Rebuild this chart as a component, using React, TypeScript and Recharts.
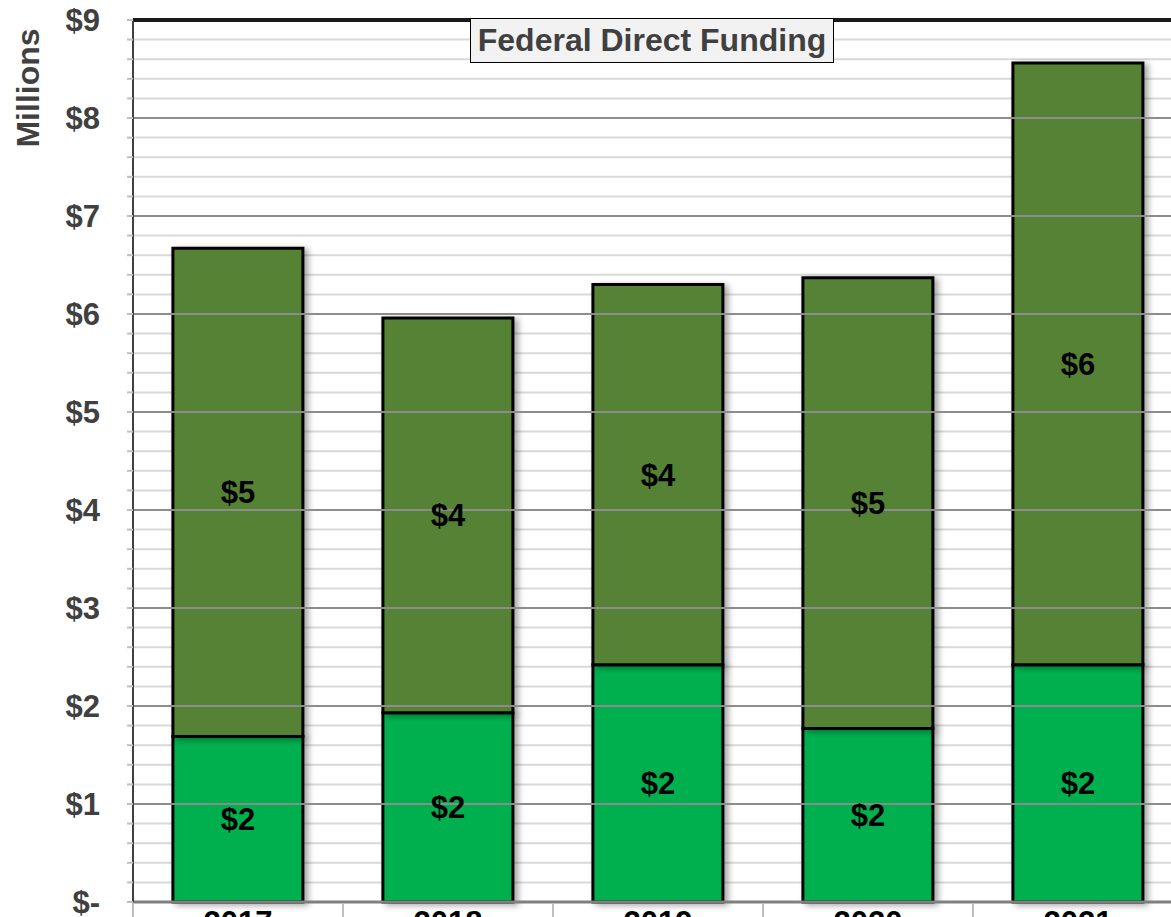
import {
  Bar,
  BarChart,
  CartesianGrid,
  LabelList,
  ReferenceLine,
  XAxis,
  YAxis,
} from 'recharts'

const years = ['2017', '2018', '2019', '2020', '2021']
const baseFunding = [1.69, 1.93, 2.42, 1.77, 2.42]
const addedFunding = [4.98, 4.03, 3.88, 4.6, 6.14]

const majorTicks = [0, 1, 2, 3, 4, 5, 6, 7, 8, 9]
const minorTicks = Array.from({ length: 46 }, (_, i) => i / 5)

const data = years.map((y, i) => ({
  year: y,
  base: baseFunding[i],
  added: addedFunding[i],
}))

const FONT = '"Liberation Sans", Arial, sans-serif'
const CHART_W = 1190
const Y_AXIS_W = 133
const RIGHT_PAD = 7
const BAND = (CHART_W - Y_AXIS_W - RIGHT_PAD) / years.length

function moneyLabel(v: number): string {
  return `$${Math.round(v)}`
}

function YTick(props: any) {
  const { x, y, payload } = props
  const v = payload.value as number
  if (Math.abs(v - Math.round(v)) > 1e-6) return <g />
  const r = Math.round(v)
  return (
    <text
      x={x}
      y={y}
      textAnchor="end"
      dominantBaseline="central"
      fontFamily={FONT}
      fontSize={31}
      fontWeight="bold"
      fill="#404040"
    >
      {r === 0 ? '$-' : `$${r}`}
    </text>
  )
}

// year label plus the divider lines between categories
function XTick(props: any) {
  const { x, y, payload, index } = props
  const left = x - BAND / 2
  const right = x + BAND / 2
  return (
    <g>
      <line x1={left} x2={left} y1={y - 8} y2={y + 20} stroke="#bfbfbf" strokeWidth={2} />
      {index === years.length - 1 && (
        <line x1={right} x2={right} y1={y - 8} y2={y + 20} stroke="#bfbfbf" strokeWidth={2} />
      )}
      <text
        x={x}
        y={y}
        dy="0.71em"
        textAnchor="middle"
        fontFamily={FONT}
        fontSize={31}
        fontWeight="bold"
        fill="#000000"
      >
        {payload.value}
      </text>
    </g>
  )
}

function AxisTitle(props: any) {
  const vb = props.viewBox
  const cx = vb.x + 28
  const cy = vb.y + 68
  return (
    <text
      x={cx}
      y={cy}
      transform={`rotate(-90, ${cx}, ${cy})`}
      textAnchor="middle"
      dominantBaseline="central"
      fontFamily={FONT}
      fontSize={32}
      fontWeight="bold"
      fill="#404040"
    >
      Millions
    </text>
  )
}

export default function App() {
  return (
    <div
      style={{
        position: 'absolute',
        left: 0,
        top: 0,
        width: 1171,
        height: 917,
        overflow: 'hidden',
        background: '#ffffff',
      }}
    >
      <svg width={0} height={0} style={{ position: 'absolute' }}>
        <defs>
          <filter id="barShadow" x="-20%" y="-20%" width="140%" height="140%">
            <feDropShadow dx={4} dy={2} stdDeviation={3} floodColor="#000" floodOpacity={0.35} />
          </filter>
        </defs>
      </svg>
      <BarChart
        width={CHART_W}
        height={960}
        data={data}
        barCategoryGap="19%"
        margin={{ top: 20, right: RIGHT_PAD, bottom: 0, left: 0 }}
      >
        <CartesianGrid vertical={false} stroke="#d9d9d9" strokeWidth={2} />
        <XAxis
          dataKey="year"
          height={58}
          tickLine={false}
          tickSize={0}
          tickMargin={9}
          interval={0}
          axisLine={{ stroke: '#7f7f7f', strokeWidth: 3 }}
          tick={<XTick />}
        />
        <YAxis
          width={Y_AXIS_W}
          domain={[0, 9]}
          ticks={minorTicks}
          interval={0}
          tick={<YTick />}
          tickSize={6}
          tickMargin={27}
          tickLine={{ stroke: '#bfbfbf', strokeWidth: 2 }}
          axisLine={{ stroke: '#404040', strokeWidth: 2 }}
          label={<AxisTitle />}
        />
        {majorTicks.slice(1, 9).map((t) => (
          <ReferenceLine key={t} y={t} stroke="#8c8c8c" strokeWidth={2} />
        ))}
        <ReferenceLine y={9} stroke="#1a1a1a" strokeWidth={4} />
        <Bar
          dataKey="base"
          stackId="a"
          fill="#00b050"
          stroke="#000000"
          strokeWidth={3}
          filter="url(#barShadow)"
          isAnimationActive={false}
        >
          <LabelList
            dataKey="base"
            position="center"
            formatter={(v: any) => moneyLabel(Number(v))}
            fill="#000000"
            fontSize={31}
            fontWeight="bold"
            fontFamily={FONT}
          />
        </Bar>
        <Bar
          dataKey="added"
          stackId="a"
          fill="#548235"
          stroke="#000000"
          strokeWidth={3}
          filter="url(#barShadow)"
          isAnimationActive={false}
        >
          <LabelList
            dataKey="added"
            position="center"
            formatter={(v: any) => moneyLabel(Number(v))}
            fill="#000000"
            fontSize={31}
            fontWeight="bold"
            fontFamily={FONT}
          />
        </Bar>
      </BarChart>
      <div
        style={{
          position: 'absolute',
          left: 470,
          top: 18,
          width: 362,
          height: 43,
          background: '#f2f2f2',
          border: '1.5px solid #000000',
          display: 'flex',
          alignItems: 'center',
          justifyContent: 'center',
          fontFamily: FONT,
          fontSize: 32,
          fontWeight: 'bold',
          color: '#404040',
        }}
      >
        Federal Direct Funding
      </div>
    </div>
  )
}
